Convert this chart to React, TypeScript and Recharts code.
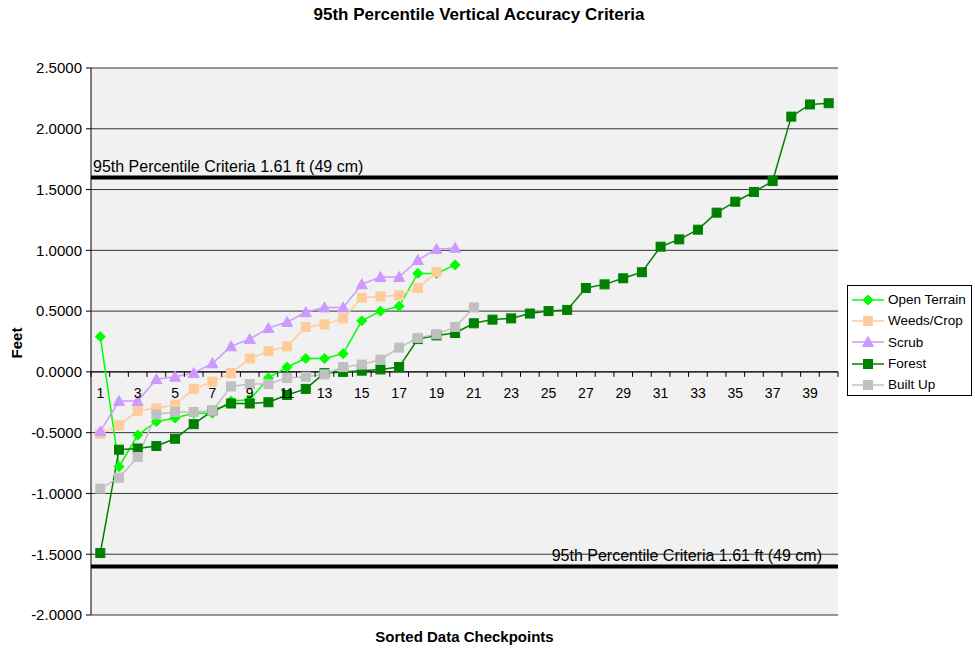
import { LineChart, Line, XAxis, YAxis, CartesianGrid, ReferenceLine } from "recharts";

const CATS = Array.from({ length: 40 }, (_, i) => i + 1);

const OPEN_TERRAIN = [0.29, -0.78, -0.52, -0.41, -0.38, -0.34, -0.34, -0.24, -0.23, -0.05, 0.04, 0.11, 0.11, 0.15, 0.42, 0.5, 0.54, 0.81, 0.81, 0.88];
const WEEDS_CROP = [-0.51, -0.44, -0.32, -0.3, -0.27, -0.14, -0.08, -0.01, 0.11, 0.17, 0.21, 0.37, 0.39, 0.44, 0.61, 0.62, 0.63, 0.69, 0.82];
const SCRUB = [-0.49, -0.24, -0.24, -0.06, -0.04, -0.01, 0.07, 0.21, 0.27, 0.36, 0.41, 0.49, 0.53, 0.53, 0.72, 0.78, 0.78, 0.92, 1.01, 1.02];
const FOREST = [-1.49, -0.64, -0.63, -0.61, -0.55, -0.43, -0.32, -0.26, -0.26, -0.25, -0.19, -0.14, -0.01, 0.0, 0.01, 0.02, 0.04, 0.27, 0.3, 0.32, 0.4, 0.43, 0.44, 0.48, 0.5, 0.51, 0.69, 0.72, 0.77, 0.82, 1.03, 1.09, 1.17, 1.31, 1.4, 1.48, 1.57, 2.1, 2.2, 2.21];
const BUILT_UP = [-0.96, -0.87, -0.7, -0.35, -0.33, -0.33, -0.32, -0.12, -0.1, -0.1, -0.05, -0.04, -0.02, 0.04, 0.06, 0.1, 0.2, 0.28, 0.31, 0.37, 0.53];

const Y_TICKS = [-2, -1.5, -1, -0.5, 0, 0.5, 1, 1.5, 2, 2.5];
const CRITERIA = 1.6;
const CRITERIA_LABEL = "95th Percentile Criteria 1.61 ft (49 cm)";

const SERIES = [
  { key: "open", name: "Open Terrain", values: OPEN_TERRAIN, color: "#00ff00", shape: "diamond" },
  { key: "weeds", name: "Weeds/Crop", values: WEEDS_CROP, color: "#ffcc99", shape: "square" },
  { key: "scrub", name: "Scrub", values: SCRUB, color: "#cc99ff", shape: "triangle" },
  { key: "forest", name: "Forest", values: FOREST, color: "#008000", shape: "square" },
  { key: "built", name: "Built Up", values: BUILT_UP, color: "#c0c0c0", shape: "square" },
];

const data = CATS.map((n, i) => {
  const row: Record<string, number | undefined> = { n };
  SERIES.forEach((s) => (row[s.key] = s.values[i]));
  return row;
});

const W = 975;
const H = 650;
const X_H = 35;
const M = { top: 68, right: 137, bottom: 0, left: 0 };
const Y_W = 91;
const PLOT_W = W - M.left - M.right - Y_W;
const PLOT_H = H - M.top - M.bottom - X_H;
const BAND = PLOT_W / CATS.length;
const ZERO_Y = M.top + (PLOT_H * Y_TICKS[Y_TICKS.length - 1]) / (Y_TICKS[Y_TICKS.length - 1] - Y_TICKS[0]);
const FONT = "'Liberation Sans', Arial, sans-serif";

function Marker({ shape, color, cx, cy }: { shape: string; color: string; cx: number; cy: number }) {
  if (shape === "diamond") {
    const r = 5;
    return <polygon points={`${cx},${cy - r} ${cx + r},${cy} ${cx},${cy + r} ${cx - r},${cy}`} fill={color} stroke={color} />;
  }
  if (shape === "triangle") {
    const r = 5.5;
    return <polygon points={`${cx},${cy - r} ${cx + r},${cy + r * 0.8} ${cx - r},${cy + r * 0.8}`} fill={color} stroke={color} />;
  }
  return <rect x={cx - 4.5} y={cy - 4.5} width={9} height={9} fill={color} stroke={color} />;
}

function XTick(props: any) {
  const { x, payload, index } = props;
  const left = x - BAND / 2;
  return (
    <g>
      <line x1={left} x2={left} y1={ZERO_Y} y2={ZERO_Y + 5} stroke="#000" />
      {index === CATS.length - 1 && <line x1={x + BAND / 2} x2={x + BAND / 2} y1={ZERO_Y} y2={ZERO_Y + 5} stroke="#000" />}
      {payload.value % 2 === 1 && (
        <text x={x} y={ZERO_Y + 26} textAnchor="middle" fontSize={14} fontFamily={FONT} fill="#000">
          {payload.value}
        </text>
      )}
    </g>
  );
}

function CriteriaLabel(props: any, side: "left" | "right") {
  const { viewBox } = props;
  const x = side === "left" ? viewBox.x + 2 : viewBox.x + viewBox.width - 16;
  return (
    <text x={x} y={viewBox.y - 5} textAnchor={side === "left" ? "start" : "end"} fontSize={16} fontFamily={FONT} fill="#000">
      {CRITERIA_LABEL}
    </text>
  );
}

export default function App() {
  return (
    <div style={{ position: "absolute", left: 0, top: 0, width: W, height: H, background: "#fff", fontFamily: FONT }}>
      <div style={{ position: "absolute", left: 0, width: 958, top: 5, textAlign: "center", fontWeight: "bold", fontSize: 17 }}>
        95th Percentile Vertical Accuracy Criteria
      </div>
      <LineChart width={W} height={H} data={data} margin={M}>
        <CartesianGrid vertical={false} stroke="#333" fill="#f1f1f1" />
        <XAxis
          dataKey="n"
          type="category"
          axisLine={false}
          tickLine={false}
          interval={0}
          height={X_H}
          padding={{ left: BAND / 2, right: BAND / 2 }}
          tick={<XTick />}
        />
        <YAxis
          width={Y_W}
          domain={[Y_TICKS[0], Y_TICKS[Y_TICKS.length - 1]]}
          ticks={Y_TICKS}
          interval={0}
          tickFormatter={(v: number) => v.toFixed(4)}
          axisLine={{ stroke: "#000" }}
          tickLine={{ stroke: "#000" }}
          tickSize={5}
          tickMargin={4}
          tick={{ fill: "#000", fontSize: 15, fontFamily: FONT }}
        />
        <YAxis yAxisId="edge" orientation="right" width={0} tick={false} axisLine={{ stroke: "#999" }} tickLine={false} domain={[Y_TICKS[0], Y_TICKS[Y_TICKS.length - 1]]} />
        <ReferenceLine y={0} stroke="#000" />
        <ReferenceLine y={CRITERIA} stroke="#000" strokeWidth={4} label={(p: any) => CriteriaLabel(p, "left")} />
        <ReferenceLine y={-CRITERIA} stroke="#000" strokeWidth={4} label={(p: any) => CriteriaLabel(p, "right")} />
        {SERIES.map((s) => (
          <Line
            key={s.key}
            dataKey={s.key}
            name={s.name}
            stroke={s.color}
            strokeWidth={1.5}
            isAnimationActive={false}
            connectNulls={false}
            dot={(p: any) =>
              p.cy == null || p.value == null ? <g key={p.key ?? p.index} /> : <Marker key={p.key ?? p.index} shape={s.shape} color={s.color} cx={p.cx} cy={p.cy} />
            }
            activeDot={false}
          />
        ))}
      </LineChart>
      <div
        style={{
          position: "absolute",
          left: 6,
          top: 343,
          transform: "translate(-50%, -50%) rotate(-90deg)",
          marginLeft: 10,
          fontWeight: "bold",
          fontSize: 15,
          whiteSpace: "nowrap",
        }}
      >
        Feet
      </div>
      <div style={{ position: "absolute", left: 91, width: 747, top: 628, textAlign: "center", fontWeight: "bold", fontSize: 15 }}>
        Sorted Data Checkpoints
      </div>
      <div
        style={{
          position: "absolute",
          left: 847,
          top: 285,
          width: 125,
          height: 111,
          border: "1px solid #000",
          background: "#fff",
          paddingTop: 3,
          boxSizing: "border-box",
        }}
      >
        {SERIES.map((s) => (
          <div key={s.key} style={{ display: "flex", alignItems: "center", height: 21.3, fontSize: 13.5, whiteSpace: "nowrap" }}>
            <svg width={36} height={12} style={{ marginLeft: 3, flex: "none" }}>
              <line x1={1} x2={33} y1={6} y2={6} stroke={s.color} strokeWidth={1.5} />
              <Marker shape={s.shape} color={s.color} cx={17} cy={6} />
            </svg>
            <span style={{ marginLeft: 1 }}>{s.name}</span>
          </div>
        ))}
      </div>
    </div>
  );
}
